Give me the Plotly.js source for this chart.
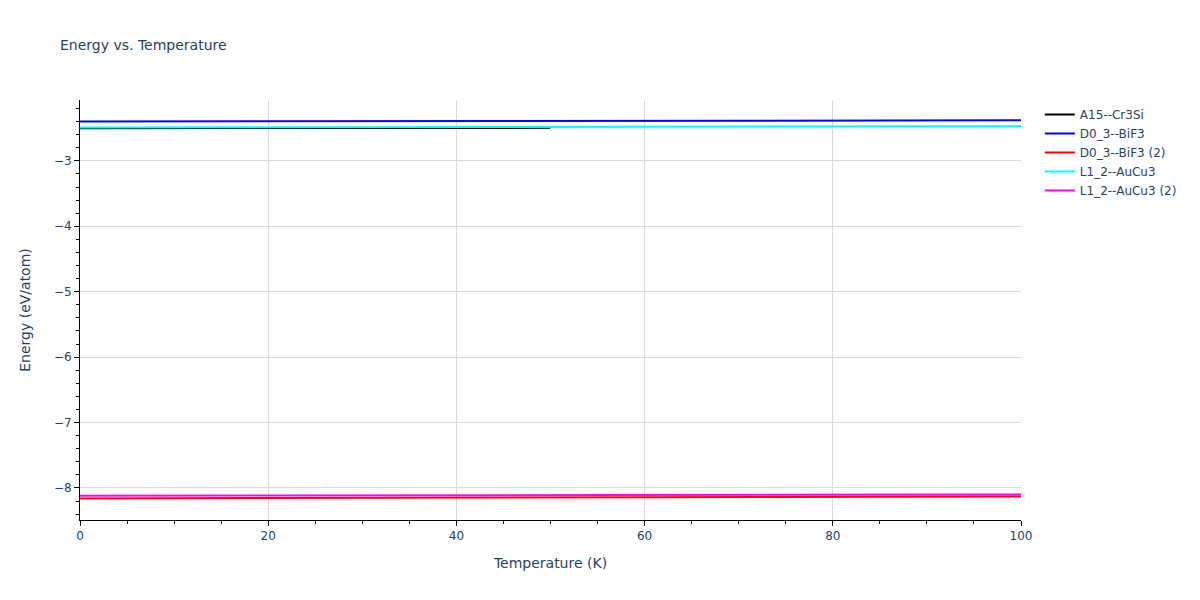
<!DOCTYPE html>
<html>
<head>
<meta charset="utf-8">
<script src="https://cdn.plot.ly/plotly-3.0.1.min.js"></script>
<style>html,body{margin:0;padding:0;background:#fff;}#chart{width:1200px;height:600px;}</style>
</head>
<body>
<div id="chart"></div>
<script>
// Temperatures (K)
const tempA15 = [0, 10, 20, 30, 40, 50];
const energyA15 = [-2.500, -2.500, -2.499, -2.498, -2.497, -2.496];

const tempFull = [0, 25, 50, 75, 100];
const energyD03 = [-2.400, -2.396, -2.392, -2.386, -2.380];
const energyD03b = [-8.160, -8.155, -8.148, -8.140, -8.132];
const energyL12 = [-2.490, -2.486, -2.481, -2.476, -2.470];
const energyL12b = [-8.120, -8.116, -8.111, -8.106, -8.100];

const seriesNames = ["A15--Cr3Si", "D0_3--BiF3", "D0_3--BiF3 (2)", "L1_2--AuCu3", "L1_2--AuCu3 (2)"];
const seriesColors = ["black", "blue", "red", "cyan", "magenta"];

const xs = [tempA15, tempFull, tempFull, tempFull, tempFull];
const ys = [energyA15, energyD03, energyD03b, energyL12, energyL12b];

const traces = seriesNames.map((n, i) => ({
  x: xs[i], y: ys[i], name: n, type: 'scatter', mode: 'lines',
  line: {color: seriesColors[i], width: 2}
}));

const layout = {
  width: 1200, height: 600,
  margin: {l: 80, r: 179, t: 100, b: 80},
  paper_bgcolor: 'white', plot_bgcolor: 'white',
  title: {text: 'Energy vs. Temperature', x: 0.05, xanchor: 'left', font: {size: 14, color: '#2a3f5f'}},
  font: {family: 'Verdana, "DejaVu Sans", sans-serif', color: '#2a3f5f'},
  xaxis: {
    title: {text: 'Temperature (K)', standoff: 15},
    range: [0, 100], showgrid: true, gridcolor: '#d9d9d9',
    showline: true, linecolor: 'black', linewidth: 1,
    ticks: 'outside', ticklen: 5, tickcolor: 'black', dtick: 20,
    minor: {ticks: 'outside', ticklen: 3, tickcolor: 'black', dtick: 5, showgrid: false},
    zeroline: false
  },
  yaxis: {
    title: {text: 'Energy (eV/atom)', standoff: 19},
    range: [-8.49, -2.07], showgrid: true, gridcolor: '#d9d9d9',
    showline: true, linecolor: 'black', linewidth: 1,
    ticks: 'outside', ticklen: 5, tickcolor: 'black', dtick: 1,
    minor: {ticks: 'outside', ticklen: 3, tickcolor: 'black', dtick: 0.2, showgrid: false},
    zeroline: false
  },
  legend: {x: 1.02, y: 1, font: {size: 12}},
  showlegend: true
};

Plotly.newPlot('chart', traces, layout, {displayModeBar: false});
</script>
</body>
</html>
